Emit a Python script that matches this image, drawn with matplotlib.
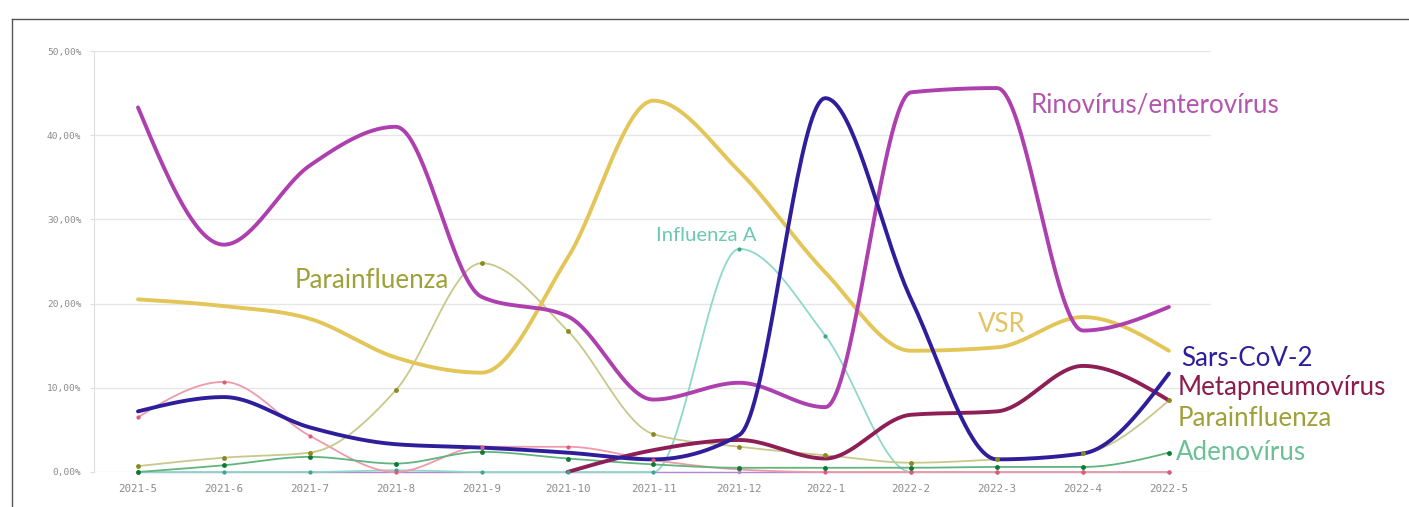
import numpy as np
import matplotlib
matplotlib.use("Agg")
import matplotlib.pyplot as plt
from matplotlib.lines import Line2D

months = ["2021-5", "2021-6", "2021-7", "2021-8", "2021-9", "2021-10", "2021-11",
          "2021-12", "2022-1", "2022-2", "2022-3", "2022-4", "2022-5"]
yticks = [0, 10, 20, 30, 40, 50]
ytick_labels = ["0,00%", "10,00%", "20,00%", "30,00%", "40,00%", "50,00%"]

nan = float("nan")
rinovirus = [43.3, 27.0, 36.4, 41.0, 20.8, 18.5, 8.6, 10.6, 7.7, 45.1, 45.6, 16.8, 19.6]
vsr = [20.5, 19.7, 18.2, 13.6, 11.8, 25.4, 44.1, 35.7, 23.7, 14.4, 14.8, 18.4, 14.4]
sars = [7.2, 8.9, 5.3, 3.3, 2.9, 2.3, 1.5, 4.4, 44.4, 20.5, 1.5, 2.2, 11.7]
metapneumo = [nan, nan, nan, nan, nan, 0, 2.6, 3.8, 1.6, 6.8, 7.2, 12.6, 8.5]
parainfluenza = [0.7, 1.7, 2.3, 9.7, 24.8, 16.8, 4.5, 3.0, 2.0, 1.1, 1.5, 2.2, 8.5]
adenovirus = [0.0, 0.8, 1.8, 1.0, 2.4, 1.6, 0.9, 0.5, 0.5, 0.5, 0.6, 0.6, 2.3]
outro = [6.5, 10.7, 4.3, 0.0, 3.0, 3.0, 1.4, 0.3, 0.0, 0.0, 0.0, 0.0, 0.0]
influenza_a = [0, 0, 0, 0.2, 0, 0, 0, 26.5, 16.2, 0, 0, 0, 0]
zero_series = [0] * 13


def monotone(x, y, n=40):
    x = np.asarray(x, float); y = np.asarray(y, float)
    ok = ~np.isnan(y)
    x = x[ok]; y = y[ok]
    h = np.diff(x); s = np.diff(y) / h
    t = np.zeros_like(y)
    for i in range(1, len(y) - 1):
        p = (s[i - 1] * h[i] + s[i] * h[i - 1]) / (h[i - 1] + h[i])
        t[i] = (np.sign(s[i - 1]) + np.sign(s[i])) * min(abs(s[i - 1]), abs(s[i]), 0.5 * abs(p))
    t[0] = (3 * s[0] - t[1]) / 2
    t[-1] = (3 * s[-1] - t[-2]) / 2
    xs, ys = [], []
    for i in range(len(h)):
        u = np.linspace(0, 1, n, endpoint=False)
        h00 = 2 * u**3 - 3 * u**2 + 1
        h10 = u**3 - 2 * u**2 + u
        h01 = -2 * u**3 + 3 * u**2
        h11 = u**3 - u**2
        xs.append(x[i] + u * h[i])
        ys.append(h00 * y[i] + h10 * h[i] * t[i] + h01 * y[i + 1] + h11 * h[i] * t[i + 1])
    xs.append([x[-1]]); ys.append([y[-1]])
    return np.concatenate(xs), np.concatenate(ys)


W, H = 1409, 507
fig = plt.figure(figsize=(W / 100, H / 100), dpi=100)
fig.patch.set_facecolor("white")

# outer frame (top and left edges visible)
fig.add_artist(Line2D([12 / W, 1.0], [1 - 19 / H, 1 - 19 / H], color="#555555", lw=1.0))
fig.add_artist(Line2D([12 / W, 12 / W], [0, 1 - 19 / H], color="#555555", lw=1.0))

ax = fig.add_axes([94 / W, 1 - 472 / H, (1211 - 94) / W, (472 - 51) / H])
ax.set_xlim(-0.512, 12.49)
ax.set_ylim(0, 50)
for sp in ["top", "right", "bottom"]:
    ax.spines[sp].set_visible(False)
ax.spines["left"].set_color("#dddddd")
ax.set_yticks(yticks)
ax.set_yticklabels(ytick_labels, family="DejaVu Sans Mono", fontsize=6.8, color="#8c8c8c")
ax.set_xticks(range(len(months)))
ax.set_xticklabels(months, family="DejaVu Sans Mono", fontsize=7.8, color="#8c8c8c")
ax.tick_params(axis="y", length=3, color="#dddddd", pad=6)
ax.tick_params(axis="x", length=0, pad=9)
ax.grid(axis="y", color="#e6e6e6", lw=1.0)
ax.set_axisbelow(True)

x = np.arange(len(months))
series = [
    (zero_series, "#b08ad0", 1.0, "#b08ad0", 2.5),
    (influenza_a, "#8fd8c8", 1.3, "#3aa890", 3),
    (outro, "#ee9aaa", 1.3, "#e05a78", 3),
    (adenovirus, "#62b47e", 1.3, "#0b7a32", 3.5),
    (parainfluenza, "#c8c88c", 1.3, "#8a8a1e", 3.5),
    (vsr, "#e3c558", 2.8, None, 0),
    (metapneumo, "#8e1f56", 2.8, None, 0),
    (rinovirus, "#ad3fae", 2.8, None, 0),
    (sars, "#2f1e9c", 2.8, None, 0),
]
for vals, col, lw, mcol, ms in series:
    xs, ys = monotone(x, vals)
    ax.plot(xs, ys, color=col, lw=lw, clip_on=False, solid_capstyle="round", zorder=3)
    if mcol:
        ax.plot(x, vals, "o", color=mcol, ms=ms, mec="none", clip_on=False, zorder=4)

lab_font = "Lato"
labels = [
    ("Rinovírus/enterovírus", 1031, 105, "#b456ae", 18.6),
    ("Parainfluenza", 295, 281, "#a0a03a", 18.6),
    ("Influenza A", 656, 236, "#6cc8b0", 14.6),
    ("VSR", 978, 325, "#e2c462", 18.6),
    ("Sars-CoV-2", 1181, 358, "#2d1f9a", 18.6),
    ("Metapneumovírus", 1178, 388, "#8a1c4f", 18.6),
    ("Parainfluenza", 1178, 418, "#a0a03a", 18.6),
    ("Adenovírus", 1176, 452, "#6cc095", 18.6),
]
for txt, px, py, col, fs in labels:
    fig.text(px / W, 1 - py / H, txt, color=col, fontsize=fs, family=lab_font,
             ha="left", va="center")

fig.savefig("out.png", dpi=100)
